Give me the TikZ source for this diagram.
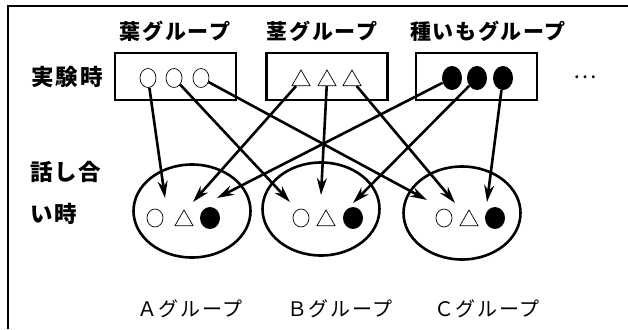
\documentclass[tikz,border=0pt]{standalone}
\usepackage{fontspec}
\newfontfamily\jpfont{Noto Sans CJK JP}[LetterSpace=8]
\usepackage{tikz}
\usetikzlibrary{arrows.meta,shapes.geometric}

\begin{document}
\begin{tikzpicture}[x=1pt, y=-1pt,
    grp/.style={rectangle, draw=black, line width=2.2pt, minimum width=121pt, minimum height=47pt},
    team/.style={ellipse, draw=black, line width=2.6pt, minimum width=117pt, minimum height=93pt},
    hollow/.style={ellipse, draw=black, line width=0.7pt, minimum width=16pt, minimum height=18pt, inner sep=0pt},
    tri/.style={regular polygon, regular polygon sides=3, draw=black, line width=0.7pt, minimum size=21pt, inner sep=0pt},
    dot/.style={ellipse, fill=black, minimum width=20pt, minimum height=22pt, inner sep=0pt},
    head/.style={font=\jpfont\bfseries\fontsize{21}{21}\selectfont, inner sep=0pt},
    side/.style={font=\jpfont\bfseries\fontsize{22.5}{22}\selectfont, inner sep=0pt},
    foot/.style={font=\jpfont\fontsize{20}{20}\selectfont, inner sep=0pt},
    arrow/.style={-{Stealth[open, length=17pt, width=10pt]}, line width=2.6pt}
]
\useasboundingbox (0,0) rectangle (628,329);

% Frame
\draw[line width=2.6pt] (8,329) -- (8,6) -- (628,6);

% Groups during the experiment
\node[head] (leafLbl) at (175,31) {葉グループ};
\node[head] (stemLbl) at (322,31) {茎グループ};
\node[head] (tuberLbl) at (488,31) {種いもグループ};
\node[side] (expLbl) at (67,77) {実験時};
\node[grp] (leaf) at (175.5,76.5) {};
\node[grp] (stem) at (327,76.5) {};
\node[grp] (tuber) at (476.5,76.5) {};
\node[font=\jpfont\fontsize{22}{22}\selectfont] (more) at (585,77) {…};

\node[hollow, minimum height=19pt] (leaf1) at (148,78) {};
\node[hollow, minimum height=19pt] (leaf2) at (174,78) {};
\node[hollow, minimum height=19pt] (leaf3) at (201,78) {};
\node[tri] (stem1) at (301,80.5) {};
\node[tri] (stem2) at (327,80.5) {};
\node[tri] (stem3) at (352,80.5) {};
\node[dot, minimum height=24pt] (tuber1) at (452,78) {};
\node[dot, minimum height=24pt] (tuber2) at (477,78) {};
\node[dot, minimum height=24pt] (tuber3) at (503,78) {};

% Groups during the discussion
\node[side, anchor=west] (talkLbl) at (30,172) {話し合};
\node[side, anchor=west] (timeLbl) at (30,214) {い時};
\node[team] (teamA) at (192,211) {};
\node[team] (teamB) at (321,209) {};
\node[team] (teamC) at (462,213) {};

\node[hollow] (aO) at (155,218) {};
\node[tri] (aT) at (184,220.5) {};
\node[dot] (aD) at (210,218) {};
\node[hollow] (bO) at (301,218) {};
\node[tri] (bT) at (326,220.5) {};
\node[dot] (bD) at (353,218) {};
\node[hollow] (cO) at (444,218) {};
\node[tri] (cT) at (469,220.5) {};
\node[dot] (cD) at (495,218) {};

\node[foot] (labelA) at (190,309) {Ａグループ};
\node[foot] (labelB) at (340,309) {Ｂグループ};
\node[foot] (labelC) at (487,309) {Ｃグループ};

% Arrow tips inside the discussion groups
\coordinate (a1) at (165,198);
\coordinate (a2) at (193,202);
\coordinate (a3) at (217,198);
\coordinate (b1) at (290,202);
\coordinate (b2) at (321,195);
\coordinate (b3) at (353,203);
\coordinate (c1) at (427,200);
\coordinate (c2) at (455,203);
\coordinate (c3) at (487,202);

% Members move to new groups
\draw[arrow] (leaf1) -- (a1);
\draw[arrow] (leaf2) -- (b1);
\draw[arrow] (leaf3) -- (c1);
\draw[arrow] (stem1) -- (a2);
\draw[arrow] (stem2) -- (b2);
\draw[arrow] (stem3) -- (c2);
\draw[arrow] (tuber1) -- (a3);
\draw[arrow] (tuber2) -- (b3);
\draw[arrow] (tuber3) -- (c3);

\end{tikzpicture}
\end{document}
